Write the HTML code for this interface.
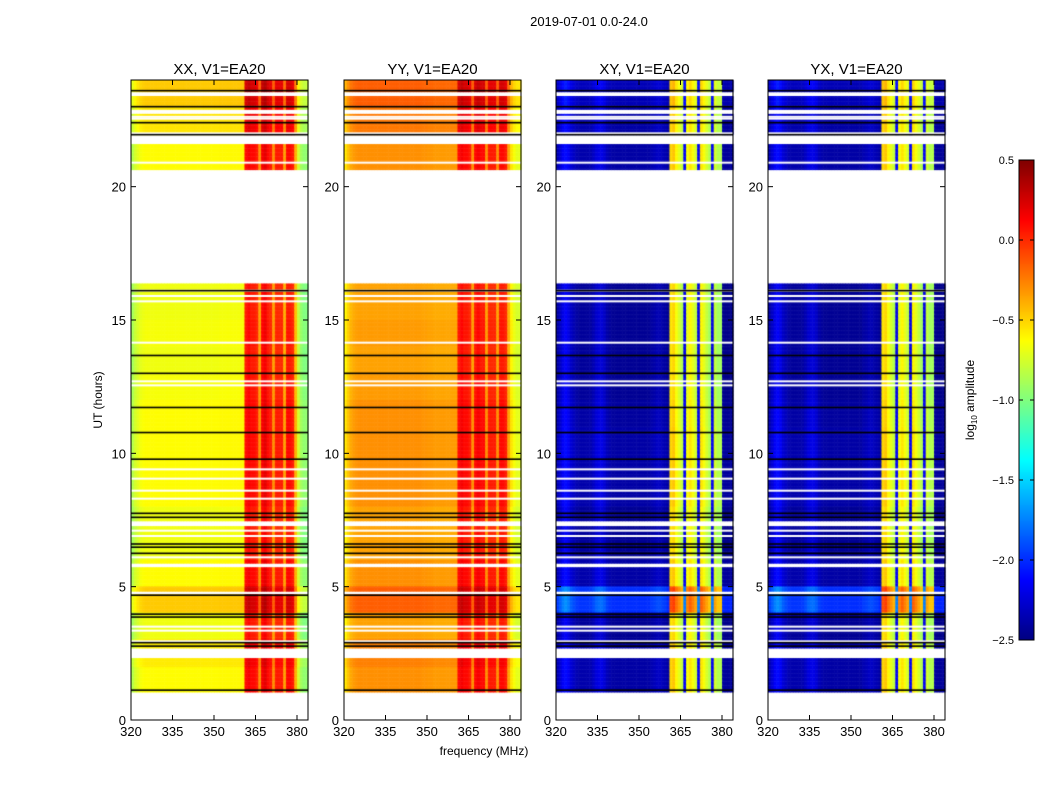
<!DOCTYPE html>
<html><head><meta charset="utf-8"><style>
body{margin:0;background:#fff;font-family:"Liberation Sans",sans-serif}
#wrap{position:relative;width:1050px;height:800px}
canvas,svg{position:absolute;left:0;top:0}
</style></head><body>
<div id="wrap">
<canvas id="cv" width="1050" height="800"></canvas>
<svg id="sv" width="1050" height="800"></svg>
</div>
<script>
// ---- data ----
const panelTitles = ["XX, V1=EA20","YY, V1=EA20","XY, V1=EA20","YX, V1=EA20"];
const freqTicks = [320,335,350,365,380];
const timeTicks = [0,5,10,15,20];
const cbTicks = [0.5,0.0,-0.5,-1.0,-1.5,-2.0,-2.5];
const segments = [[1.05,2.32],[2.7,4.72],[4.83,5.73],[5.88,7.27],[7.47,16.37],[20.64,21.6],[21.95,22.73],[22.9,23.4],[23.56,24]];
const whiteLines = [22.62,22.55,22.0,20.9,16.1,15.9,15.7,14.15,12.7,12.55,9.4,9.05,8.6,8.3,7.1,6.9,6.1,3.5,3.35,2.95];
const blackLines = [23.6,23.0,22.4,21.95,16.1,13.67,13.0,11.72,10.78,9.78,7.75,7.6,6.6,6.48,6.25,4.68,3.97,3.86,2.9,2.77,1.12];
// column profiles, 1 MHz channels from 320 to 383
const xxProfile = [-0.9,-0.8,-0.75,-0.7,-0.68,-0.67,-0.67,-0.67,-0.67,-0.67,-0.67,-0.67,-0.67,-0.67,-0.67,-0.67,-0.67,-0.67,-0.67,-0.67,-0.67,-0.67,-0.67,-0.67,-0.67,-0.67,-0.67,-0.67,-0.67,-0.67,-0.67,-0.67,-0.66,-0.66,-0.66,-0.66,-0.66,-0.66,-0.66,-0.66,-0.66,0.05,0.1,0.05,0.05,0.0,-0.35,0.1,0.15,0.05,0.0,-0.35,0.0,0.0,0.0,-0.4,0.05,0.05,0.0,-0.45,-0.8,-0.95,-1.0,-1.0];
const yyProfile = [-0.6,-0.5,-0.42,-0.38,-0.36,-0.35,-0.35,-0.35,-0.35,-0.35,-0.35,-0.35,-0.35,-0.35,-0.35,-0.35,-0.35,-0.35,-0.35,-0.35,-0.35,-0.35,-0.35,-0.35,-0.35,-0.35,-0.35,-0.35,-0.36,-0.36,-0.37,-0.37,-0.38,-0.38,-0.38,-0.38,-0.38,-0.38,-0.38,-0.38,-0.38,0.05,0.1,0.05,0.05,0.0,-0.35,0.05,0.1,0.05,0.05,-0.35,0.0,0.0,0.0,-0.35,0.05,0.05,0.0,-0.4,-0.6,-0.7,-0.75,-0.75];
const crossProfile = [-2.4,-2.3,-2.2,-2.15,-2.2,-2.3,-2.35,-2.4,-2.42,-2.42,-2.42,-2.42,-2.4,-2.35,-2.28,-2.25,-2.25,-2.3,-2.38,-2.42,-2.44,-2.44,-2.44,-2.44,-2.44,-2.44,-2.44,-2.44,-2.44,-2.44,-2.44,-2.44,-2.44,-2.44,-2.4,-2.38,-2.35,-2.35,-2.38,-2.4,-2.45,-0.55,-0.5,-0.65,-0.75,-0.85,-2.2,-0.7,-0.6,-0.7,-0.8,-2.2,-0.6,-0.7,-0.8,-0.9,-2.2,-0.8,-0.9,-0.9,-2.45,-2.47,-2.47,-2.47];
// hourly level offsets
const parallelRowOffset = [0,0.05,0.1,0,0.2,0.05,0,0,0.05,0.05,0.05,0.05,0.02,0,0.02,0,0,0,0,0,0.05,0.05,0.12,0.2];
const crossRowOffset = [0,0.05,0.05,0,0.45,0.05,0,0,0.05,0.05,0.05,0.03,0,0,0,0,0,0,0,0,0.05,0.05,0.05,0.1];
const panelProfiles = [xxProfile,yyProfile,crossProfile,crossProfile];
const panelRowOffsets = [parallelRowOffset,parallelRowOffset,crossRowOffset,crossRowOffset];

// ---- layout ----
const PX = [131,344,556,768], PW = 177, PT = 80, PB = 720;
const F0 = 320, FPX = 41.5/15;
const xOf = (p,f)=>PX[p]+(f-F0)*FPX;
const yOf = h=>PB-h*(PB-PT)/24;
const VMIN=-2.5, VMAX=0.5;
function jet(v){
  let t=(v-VMIN)/(VMAX-VMIN); t=Math.max(0,Math.min(1,t));
  const c=x=>Math.round(255*Math.max(0,Math.min(1,x)));
  const r=c(Math.min(4*t-1.5,-4*t+4.5)), g=c(Math.min(4*t-0.5,-4*t+3.5)), b=c(Math.min(4*t+0.5,-4*t+2.5));
  return `rgb(${r},${g},${b})`;
}
const cv=document.getElementById('cv'), ctx=cv.getContext('2d');
const DT=0.05;
for(let p=0;p<4;p++){
  const prof=panelProfiles[p], ro=panelRowOffsets[p];
  for(const [a,b] of segments){
    for(let h=a; h<b-1e-9; h+=DT){
      const h2=Math.min(b,h+DT);
      const off=ro[Math.min(23,Math.floor(h))];
      for(let c=0;c<prof.length;c++){
        ctx.fillStyle=jet(prof[c]+off);
        const x0=xOf(p,F0+c), x1=Math.min(PX[p]+PW,xOf(p,F0+c+1));
        ctx.fillRect(x0,yOf(h2),x1-x0+0.5,yOf(h)-yOf(h2)+0.5);
      }
    }
  }
  ctx.fillStyle='#fff';
  for(const h of whiteLines) ctx.fillRect(PX[p],yOf(h)-1,PW,2);
  ctx.fillStyle='#000';
  for(const h of blackLines) ctx.fillRect(PX[p],yOf(h)-0.8,PW,1.6);
}
// colorbar
for(let y=160;y<640;y++){ ctx.fillStyle=jet(VMAX-(y-160)/480*(VMAX-VMIN)); ctx.fillRect(1019,y,15,1); }

// ---- svg overlay ----
const NS='http://www.w3.org/2000/svg', sv=document.getElementById('sv');
function el(tag,attrs,txt){const e=document.createElementNS(NS,tag);for(const k in attrs)e.setAttribute(k,attrs[k]);if(txt!==undefined)e.textContent=txt;sv.appendChild(e);return e;}
const fmt=v=>(v<0?'\u2212':'')+Math.abs(v).toFixed(1);
let t=el('text',{x:589,y:26,'font-size':13,'text-anchor':'middle',fill:'#000'},'2019-07-01 0.0-24.0');


for(let p=0;p<4;p++){
  let r=el('rect',{x:PX[p],y:PT,width:PW,height:PB-PT,fill:'none',stroke:'#000','stroke-width':1});
  
  
  let tt=el('text',{x:PX[p]+PW/2,y:74,'font-size':15,'text-anchor':'middle'},panelTitles[p]);
  
  
  for(const f of freqTicks){
    const x=xOf(p,f);
    el('line',{x1:x,x2:x,y1:PB,y2:PB-5,stroke:'#000'});
    el('line',{x1:x,x2:x,y1:PT,y2:PT+5,stroke:'#000'});
    let l=el('text',{x:x,y:PB+16,'font-size':13,'text-anchor':'middle'},f);
    
    
  }
  for(const h of timeTicks){
    const y=yOf(h);
    el('line',{x1:PX[p],x2:PX[p]+5,y1:y,y2:y,stroke:'#000'});
    el('line',{x1:PX[p]+PW,x2:PX[p]+PW-5,y1:y,y2:y,stroke:'#000'});
    let l=el('text',{x:PX[p]-5,y:y+5,'font-size':13,'text-anchor':'end'},h);
    
    
  }
}
let xl=el('text',{x:484,y:755,'font-size':12,'text-anchor':'middle'},'frequency (MHz)');


let yl=el('text',{x:0,y:0,'font-size':12,'text-anchor':'middle',transform:'translate(102,400) rotate(-90)'},'UT (hours)');


let cbf=el('rect',{x:1019,y:160,width:15,height:480,fill:'none',stroke:'#000'});


for(const v of cbTicks){
  const y=160+(VMAX-v)/(VMAX-VMIN)*480;
  el('line',{x1:1019,x2:1023,y1:y,y2:y,stroke:'#000'});
  el('line',{x1:1034,x2:1030,y1:y,y2:y,stroke:'#000'});
  let l=el('text',{x:1014,y:y+4,'font-size':11,'text-anchor':'end'},fmt(v));
  
  
}
let cl=el('text',{x:0,y:0,'font-size':12,'text-anchor':'middle',transform:'translate(974,400) rotate(-90)'});
cl.innerHTML='log<tspan font-size="8" dy="3">10</tspan><tspan dy="-3"> amplitude</tspan>';


</script>
</body></html>
